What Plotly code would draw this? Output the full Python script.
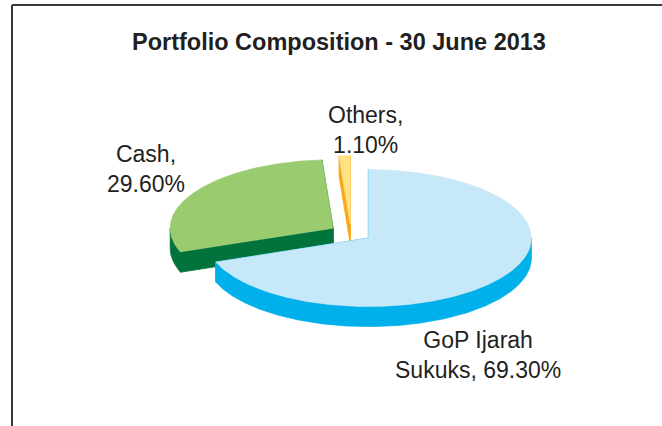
import numpy as np
import plotly.graph_objects as go

# ---- data ----
labels = ["GoP Ijarah Sukuks", "Cash", "Others"]
values = [69.30, 29.60, 1.10]
label_text = ["GoP Ijarah<br>Sukuks, 69.30%", "Cash,<br>29.60%", "Others,<br>1.10%"]
title_text = "<b>Portfolio Composition - 30 June 2013</b>"

# ---- style ----
top_colors = ["#C6E8F8", "#9ACB6E", "#FFE286"]
side_colors = ["#00B0EA", "#00733A", "#F7A81B"]
label_pos = [(478, 355), (146, 169), (365, 130)]  # pixel centres of labels
TILT = 0.42      # vertical squash of the pie
DEPTH = 0.123    # thickness of the pie (radius units)
PULL = 0.13      # explosion distance (radius units)
W, H = 662, 426
SCALE = 163      # pixels per radius unit
CX, CY = 351, 233  # pixel position of pie centre

fig = go.Figure()


def poly(x, y, color, lw=0.8, name=None):
    fig.add_trace(go.Scatter(x=list(x), y=list(y), mode="lines", fill="toself",
                             fillcolor=color, line=dict(color=color, width=lw),
                             name=name, hoverinfo="name" if name else "skip",
                             showlegend=False))


total = sum(values)
slices = []
start = 0.0
for i, v in enumerate(values):
    span = 360.0 * v / total
    a0, a1 = start, start + span
    start = a1
    slices.append((i, a0, a1))


def offset(a0, a1):
    mid = np.radians((a0 + a1) / 2)
    return PULL * np.sin(mid), PULL * TILT * np.cos(mid)


def arc(a0, a1, ox, oy):
    n = max(4, int((a1 - a0) * 2))
    th = np.radians(np.linspace(a0, a1, n))
    return ox + np.sin(th), oy + TILT * np.cos(th)


# draw back-to-front
order = sorted(slices, key=lambda s: -offset(s[1], s[2])[1])
for i, a0, a1 in order:
    ox, oy = offset(a0, a1)
    # outer wall: only the front half (90..270 deg) is visible
    f0, f1 = max(a0, 90.0), min(a1, 270.0)
    if f1 > f0:
        wx, wy = arc(f0, f1, ox, oy)
        poly(np.concatenate([wx, wx[::-1], wx[:1]]),
             np.concatenate([wy, wy[::-1] - DEPTH, wy[:1]]), side_colors[i])
    # radial cut faces
    for a in (a0, a1):
        ex = ox + np.sin(np.radians(a))
        ey = oy + TILT * np.cos(np.radians(a))
        poly([ox, ex, ex, ox, ox], [oy, ey, ey - DEPTH, oy - DEPTH, oy], side_colors[i])
    # top face
    tx, ty = arc(a0, a1, ox, oy)
    poly(np.concatenate([[ox], tx, [ox]]), np.concatenate([[oy], ty, [oy]]),
         top_colors[i], lw=0.6, name=labels[i])

font = dict(family="Liberation Sans, Arial", size=23, color="#231F20")
annotations = [dict(text=title_text, x=339 / W, y=1 - 42 / H, xref="paper", yref="paper",
                    showarrow=False, xanchor="center", yanchor="middle",
                    font=dict(family="Liberation Sans, Arial", size=23.5, color="#231F20"))]
for t, (lx, ly) in zip(label_text, label_pos):
    annotations.append(dict(text=t, x=lx / W, y=1 - ly / H, xref="paper", yref="paper",
                            showarrow=False, xanchor="center", yanchor="middle",
                            align="center", font=font))

shapes = [
    dict(type="line", xref="paper", yref="paper", x0=12 / W, x1=12 / W, y0=1 - 5 / H, y1=0,
         line=dict(color="#3A3A3A", width=2)),
    dict(type="line", xref="paper", yref="paper", x0=12 / W, x1=1, y0=1 - 5 / H, y1=1 - 5 / H,
         line=dict(color="#3A3A3A", width=2)),
]

fig.update_layout(
    width=W, height=H, margin=dict(l=0, r=0, t=0, b=0),
    paper_bgcolor="white", plot_bgcolor="white",
    xaxis=dict(range=[-CX / SCALE, (W - CX) / SCALE], visible=False, fixedrange=True),
    yaxis=dict(range=[(CY - H) / SCALE, CY / SCALE], visible=False, fixedrange=True),
    annotations=annotations, shapes=shapes,
)

fig.write_html("out.html", config={"displayModeBar": False},
               post_script="document.body.style.margin='0';document.body.style.overflow='hidden';")
